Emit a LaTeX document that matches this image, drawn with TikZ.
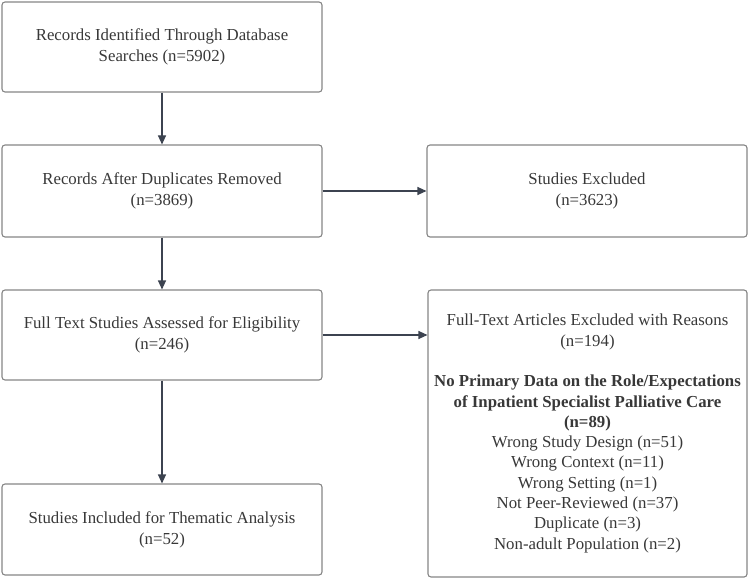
\documentclass[tikz,border=0pt]{standalone}
\usepackage{fontspec}
\setmainfont{Liberation Serif}
\usetikzlibrary{arrows.meta}
\definecolor{boxline}{HTML}{858585}
\definecolor{txt}{HTML}{383838}
\definecolor{arr}{HTML}{3C4350}
\tikzset{
  box/.style={draw=boxline, line width=1.1pt, rounded corners=3pt, align=center,
    minimum width=320pt, inner sep=0pt, text=txt,
    font=\fontsize{16.8}{21}\selectfont},
  conn/.style={draw=arr, line width=1.1pt, -{Triangle[length=9pt,width=8pt]}}
}
\begin{document}
\begin{tikzpicture}[x=1pt,y=-1pt]
\useasboundingbox (0,0) rectangle (749,580);
\node[box, minimum height=90pt] (b1) at (162,47)
  {Records Identified Through Database\\Searches (n=5902)};
\node[box, minimum height=92pt] (b2) at (162,191)
  {Records After Duplicates Removed\\(n=3869)};
\node[box, minimum height=92pt] (se) at (587,191)
  {Studies Excluded\\(n=3623)};
\node[box, minimum height=90pt] (b3) at (162,335)
  {Full Text Studies Assessed for Eligibility\\(n=246)};
\node[box, minimum height=91pt] (b4) at (162,529.5)
  {Studies Included for Thematic Analysis\\(n=52)};
\node[box, minimum width=319pt, minimum height=287pt,
      font=\fontsize{16.8}{20.3}\selectfont] (ft) at (587.5,433.5)
  {Full-Text Articles Excluded with Reasons\\(n=194)\\[20.3pt]
   \textbf{No Primary Data on the Role/Expectations}\\
   \textbf{of Inpatient Specialist Palliative Care}\\
   \textbf{(n=89)}\\
   Wrong Study Design (n=51)\\
   Wrong Context (n=11)\\
   Wrong Setting (n=1)\\
   Not Peer-Reviewed (n=37)\\
   Duplicate (n=3)\\
   Non-adult Population (n=2)};
\draw[conn] (b1.south) -- (b2.north);
\draw[conn] (b2.south) -- (b3.north);
\draw[conn] (b3.south) -- (b4.north);
\draw[conn] (b2.east) -- (se.west);
\draw[conn] (b3.east) -- (b3.east -| ft.west);
\end{tikzpicture}
\end{document}
